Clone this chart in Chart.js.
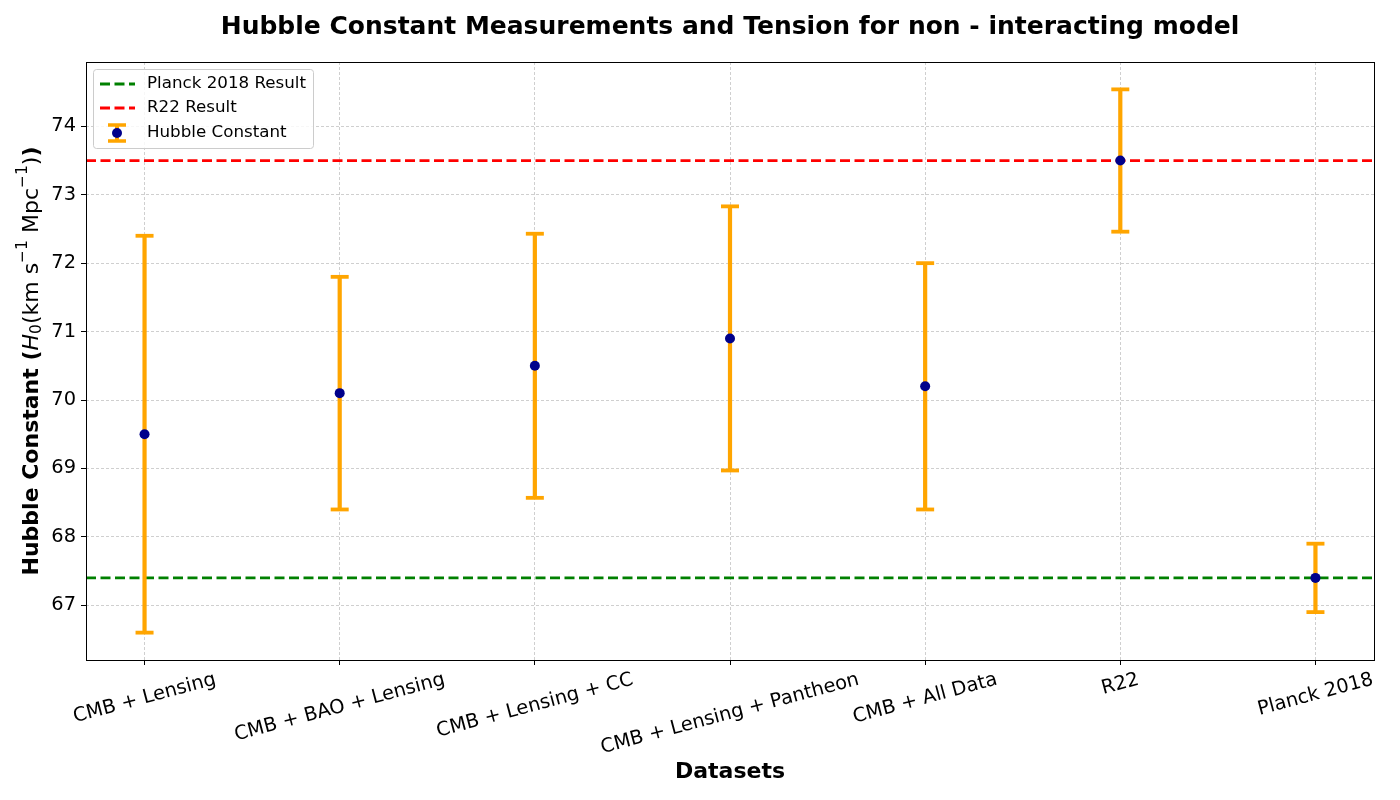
<!DOCTYPE html>
<html>
<head>
<meta charset="utf-8">
<script src="https://cdn.jsdelivr.net/npm/chart.js@4.4.1/dist/chart.umd.min.js"></script>
<style>
  html, body { margin: 0; padding: 0; background: #fff; }
  #wrap { width: 1400px; height: 800px; }
</style>
</head>
<body>
<div id="wrap"><canvas id="chart" width="1400" height="800"></canvas></div>
<script>
const categories = ['CMB + Lensing', 'CMB + BAO + Lensing', 'CMB + Lensing + CC', 'CMB + Lensing + Pantheon', 'CMB + All Data', 'R22', 'Planck 2018'];
const h0Values = [69.5, 70.1, 70.5, 70.9, 70.2, 73.5, 67.4];
const h0Errors = [2.9, 1.7, 1.93, 1.93, 1.8, 1.04, 0.5];
const planckResult = 67.4;
const r22Result = 73.5;
const yTicks = [67, 68, 69, 70, 71, 72, 73, 74];
const xMin = -0.3, xMax = 6.3;
const yMin = 66.2, yMax = 74.94;

const FONT = "'DejaVu Sans', sans-serif";
const ORANGE = '#ffa500';
const NAVY = '#00008b';

// error bars as broken line segments (null breaks the line)
const errData = [];
h0Values.forEach((v, i) => {
    errData.push({ x: i, y: v - h0Errors[i] });
    errData.push({ x: i, y: v + h0Errors[i] });
    errData.push({ x: i, y: null });
});

const extras = {
    id: 'extras',
    afterDraw(chart) {
        const ctx = chart.ctx;
        const area = chart.chartArea;
        const xs = chart.scales.x;
        ctx.save();

        // frame
        ctx.strokeStyle = '#000';
        ctx.lineWidth = 1;
        ctx.setLineDash([]);
        ctx.strokeRect(area.left + 0.5, area.top + 0.5, area.right - area.left, area.bottom - area.top);

        // title
        ctx.fillStyle = '#000';
        ctx.font = 'bold 25px ' + FONT;
        ctx.textAlign = 'center';
        ctx.textBaseline = 'middle';
        ctx.fillText('Hubble Constant Measurements and Tension for non - interacting model', (area.left + area.right) / 2, 27);

        // x tick labels, rotated 15deg, centred on tick
        const fs = 19.4;
        ctx.font = fs + 'px ' + FONT;
        const rot = 15 * Math.PI / 180;
        categories.forEach((c, i) => {
            const px = xs.getPixelForValue(i);
            const w = ctx.measureText(c).width;
            const bh = w * Math.sin(rot) + fs * Math.cos(rot);
            const cy = area.bottom + 5 + 5 + bh / 2;
            ctx.save();
            ctx.translate(px, cy);
            ctx.rotate(-rot);
            ctx.textAlign = 'center';
            ctx.textBaseline = 'middle';
            ctx.fillText(c, 0, 0);
            ctx.restore();
        });

        // x axis title
        ctx.font = 'bold 22px ' + FONT;
        ctx.textAlign = 'center';
        ctx.fillText('Datasets', (area.left + area.right) / 2, 772);

        // y axis title with sub/superscripts
        const parts = [
            { t: 'Hubble Constant (', f: 'bold 22px ' + FONT, dy: 0 },
            { t: 'H', f: 'italic 22px ' + FONT, dy: 0 },
            { t: '0', f: '15.5px ' + FONT, dy: 5 },
            { t: '(km s', f: '22px ' + FONT, dy: 0 },
            { t: '\u22121', f: '15.5px ' + FONT, dy: -9 },
            { t: ' Mpc', f: '22px ' + FONT, dy: 0 },
            { t: '\u22121', f: '15.5px ' + FONT, dy: -9 },
            { t: ')', f: '22px ' + FONT, dy: 0 },
            { t: ')', f: 'bold 22px ' + FONT, dy: 0 }
        ];
        let total = 0;
        parts.forEach(p => { ctx.font = p.f; p.w = ctx.measureText(p.t).width; total += p.w; });
        ctx.save();
        ctx.translate(32, (area.top + area.bottom) / 2);
        ctx.rotate(-Math.PI / 2);
        ctx.textAlign = 'left';
        ctx.textBaseline = 'middle';
        let cx = -total / 2;
        parts.forEach(p => {
            ctx.font = p.f;
            ctx.fillText(p.t, cx, p.dy);
            cx += p.w;
        });
        ctx.restore();

        // legend
        const lx = 93.5, ly = 69.5, lw = 220, lh = 79;
        ctx.fillStyle = 'rgba(255,255,255,0.85)';
        ctx.strokeStyle = '#cccccc';
        ctx.lineWidth = 1;
        ctx.beginPath();
        ctx.roundRect(lx, ly, lw, lh, 3);
        ctx.fill();
        ctx.stroke();

        const rows = [84, 108, 133];
        ctx.lineWidth = 2.8;
        ctx.setLineDash([10, 4.5]);
        [['#008000', 0], ['#ff0000', 1]].forEach(([col, r]) => {
            ctx.strokeStyle = col;
            ctx.beginPath();
            ctx.moveTo(100, rows[r]);
            ctx.lineTo(135, rows[r]);
            ctx.stroke();
        });
        ctx.setLineDash([]);
        ctx.strokeStyle = ORANGE;
        ctx.lineWidth = 4;
        ctx.beginPath();
        ctx.moveTo(117, 125); ctx.lineTo(117, 141);
        ctx.stroke();
        ctx.lineWidth = 3.5;
        ctx.beginPath();
        ctx.moveTo(108, 125); ctx.lineTo(126, 125);
        ctx.moveTo(108, 141); ctx.lineTo(126, 141);
        ctx.stroke();
        ctx.fillStyle = NAVY;
        ctx.beginPath();
        ctx.arc(117, 133, 5, 0, Math.PI * 2);
        ctx.fill();

        ctx.fillStyle = '#000';
        ctx.font = '16.7px ' + FONT;
        ctx.textAlign = 'left';
        ctx.textBaseline = 'middle';
        ctx.fillText('Planck 2018 Result', 147, rows[0]);
        ctx.fillText('R22 Result', 147, rows[1]);
        ctx.fillText('Hubble Constant', 147, rows[2]);

        ctx.restore();
    }
};

new Chart(document.getElementById('chart'), {
    type: 'line',
    data: {
        datasets: [
            {
                label: 'Planck 2018 Result',
                data: [{ x: xMin, y: planckResult }, { x: xMax, y: planckResult }],
                borderColor: '#008000',
                borderWidth: 2.8,
                borderDash: [10, 4.5],
                pointRadius: 0,
                order: 4
            },
            {
                label: 'R22 Result',
                data: [{ x: xMin, y: r22Result }, { x: xMax, y: r22Result }],
                borderColor: '#ff0000',
                borderWidth: 2.8,
                borderDash: [10, 4.5],
                pointRadius: 0,
                order: 3
            },
            {
                label: 'Error',
                data: errData,
                borderColor: ORANGE,
                borderWidth: 4.2,
                spanGaps: false,
                pointStyle: 'line',
                pointRadius: 9,
                pointBorderWidth: 3.8,
                pointBorderColor: ORANGE,
                pointHoverRadius: 9,
                order: 2
            },
            {
                label: 'Hubble Constant',
                data: h0Values.map((v, i) => ({ x: i, y: v })),
                showLine: false,
                pointRadius: 5,
                pointBackgroundColor: NAVY,
                pointBorderColor: NAVY,
                pointBorderWidth: 0,
                order: 1
            }
        ]
    },
    options: {
        responsive: false,
        animation: false,
        events: [],
        layout: { padding: { left: 0, right: 26, top: 62, bottom: 0 } },
        plugins: {
            legend: { display: false },
            title: { display: false },
            tooltip: { enabled: false }
        },
        scales: {
            x: {
                type: 'linear',
                min: xMin,
                max: xMax,
                afterBuildTicks: s => { s.ticks = categories.map((_, i) => ({ value: i })); },
                afterFit: s => { s.height = 140; },
                ticks: { display: false },
                grid: {
                    color: 'rgba(140,140,140,0.6)',
                    lineWidth: 0.7,
                    tickLength: 5,
                    tickColor: '#000',
                    tickWidth: 1,
                    tickBorderDash: [1, 0]
                },
                border: { display: false, dash: [3, 2] }
            },
            y: {
                type: 'linear',
                min: yMin,
                max: yMax,
                afterBuildTicks: s => { s.ticks = yTicks.map(v => ({ value: v })); },
                afterFit: s => { s.width = 86; },
                ticks: {
                    color: '#000',
                    padding: 5,
                    font: { family: FONT, size: 19.4 }
                },
                grid: {
                    color: 'rgba(140,140,140,0.6)',
                    lineWidth: 0.7,
                    tickLength: 5,
                    tickColor: '#000',
                    tickWidth: 1,
                    tickBorderDash: [1, 0]
                },
                border: { display: false, dash: [3, 2] }
            }
        }
    },
    plugins: [extras]
});
</script>
</body>
</html>
